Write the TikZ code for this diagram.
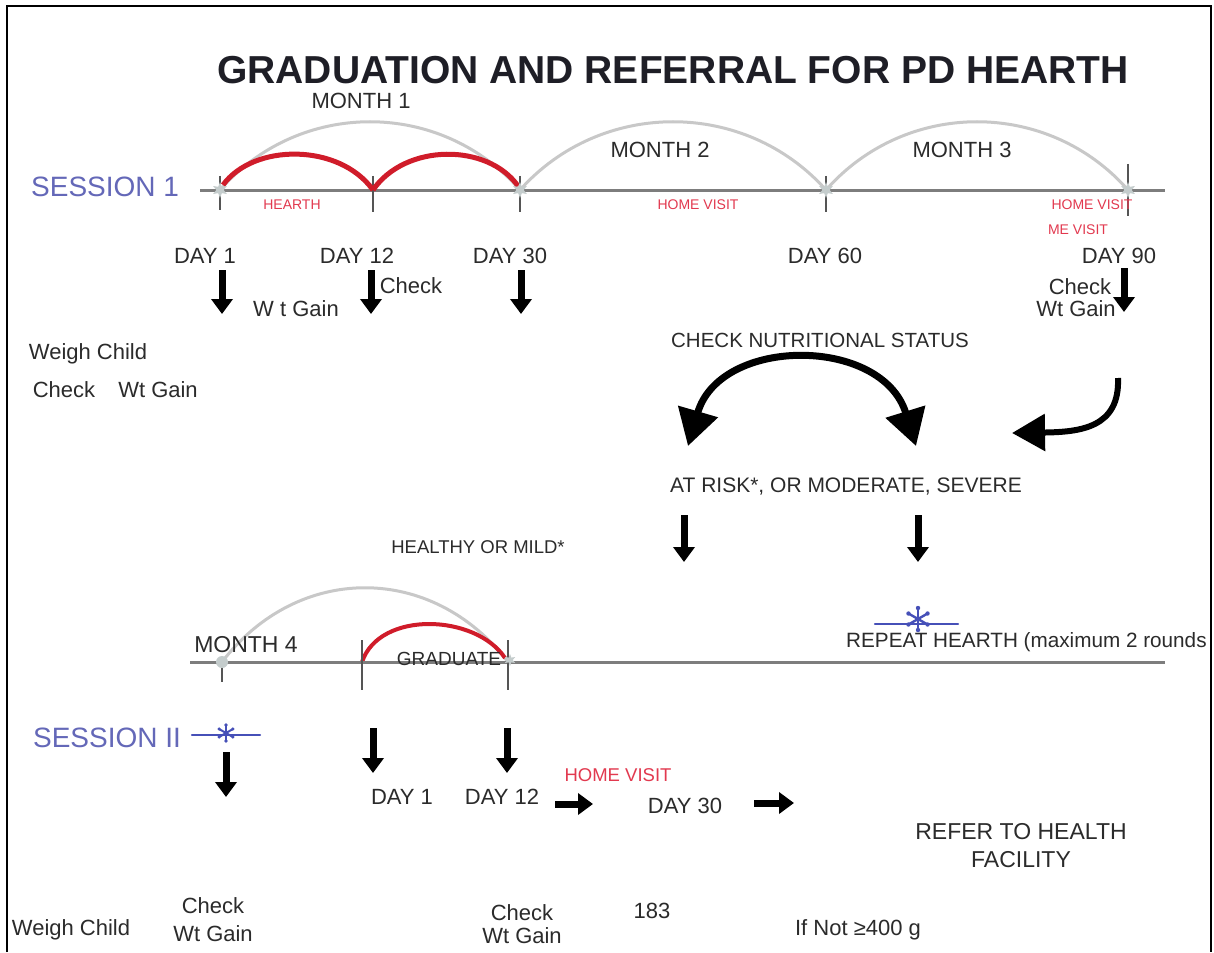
\documentclass[tikz,border=0pt]{standalone}
\usepackage{fontspec}
\setmainfont{Liberation Sans}
\usetikzlibrary{arrows.meta,shapes.geometric,calc}
\definecolor{ink}{HTML}{2B2B2B}
\definecolor{titleink}{HTML}{1E1E26}
\definecolor{axis}{HTML}{7D7D7D}
\definecolor{tickc}{HTML}{555555}
\definecolor{arcgray}{HTML}{C8C8C8}
\definecolor{hearthred}{HTML}{D01C2A}
\definecolor{notered}{HTML}{E2394F}
\definecolor{sessblue}{HTML}{6468B8}
\definecolor{starblue}{HTML}{4650B8}
\definecolor{knotc}{HTML}{C4CCCC}
\newcommand\fs[1]{\fontsize{#1}{#1}\selectfont}

\begin{document}
\begin{tikzpicture}[x=1pt,y=-1pt,
  txt/.style={text=ink, inner sep=0pt, font=\fs{22}},
  small/.style={text=ink, inner sep=0pt, font=\fs{19}},
  redlbl/.style={text=notered, inner sep=0pt, font=\fs{14}},
  session/.style={text=sessblue, inner sep=0pt, font=\fs{28}},
  axisline/.style={draw=axis, line width=3pt},
  tickline/.style={draw=tickc, line width=2pt},
  monthArc/.style={draw=arcgray, line width=3pt},
  hearthArc/.style={draw=hearthred, line width=5pt},
  knot/.style={star, star points=6, star point ratio=2.2, fill=knotc, draw=none, minimum size=16pt, inner sep=0pt},
  dnarrow/.style={draw=black, line width=7pt, -{Triangle[width=21pt,length=15pt]}},
  bigarrow/.style={draw=black, line width=7pt},
  astr/.style={draw=starblue, line width=2.4pt, line cap=round}
]
\useasboundingbox (0,0) rectangle (1214,952);
\fill[white] (0,0) rectangle (1214,952);

% ---------- title ----------
\node[text=titleink, inner sep=0pt, font=\bfseries\fs{39}] (title) at (673,70) {GRADUATION AND REFERRAL FOR PD HEARTH};

% ---------- session 1 time line ----------
\coordinate (s1start) at (200,190);
\coordinate (s1end) at (1165,190);
\coordinate (s1d1) at (220,190);
\coordinate (s1d12) at (373,190);
\coordinate (s1d30) at (520,190);
\coordinate (s1d60) at (826,190);
\coordinate (s1d90) at (1128,190);

\draw[axisline] (s1start) -- (s1end);
\draw[tickline] ($(s1d1)+(0,-14)$) -- ($(s1d1)+(0,20)$);
\draw[tickline] ($(s1d12)+(0,-14)$) -- ($(s1d12)+(0,22)$);
\draw[tickline] ($(s1d30)+(0,-14)$) -- ($(s1d30)+(0,22)$);
\draw[tickline] ($(s1d60)+(0,-14)$) -- ($(s1d60)+(0,22)$);
\draw[tickline] ($(s1d90)+(0,-26)$) -- ($(s1d90)+(0,26)$);

% month arcs
\draw[monthArc] (s1d1) .. controls ($(s1d1)!0.265!(s1d30)+(0,-91)$) and ($(s1d30)!0.265!(s1d1)+(0,-91)$) .. (s1d30);
\draw[monthArc] (s1d30) .. controls ($(s1d30)!0.265!(s1d60)+(0,-91)$) and ($(s1d60)!0.265!(s1d30)+(0,-91)$) .. (s1d60);
\draw[monthArc] (s1d60) .. controls ($(s1d60)!0.265!(s1d90)+(0,-91)$) and ($(s1d90)!0.265!(s1d60)+(0,-91)$) .. (s1d90);
% hearth arcs
\draw[hearthArc] ($(s1d1)+(3,-5)$) .. controls ($(s1d1)!0.22!(s1d12)+(0,-47)$) and ($(s1d12)!0.22!(s1d1)+(0,-47)$) .. (s1d12);
\draw[hearthArc] (s1d12) .. controls ($(s1d12)!0.22!(s1d30)+(0,-47)$) and ($(s1d30)!0.22!(s1d12)+(0,-47)$) .. ($(s1d30)+(-2,-4)$);

\node[knot] (k1) at (s1d1) {};
\node[knot] (k2) at (s1d30) {};
\node[knot] (k3) at (s1d60) {};
\node[knot] (k4) at (s1d90) {};

\node[session, anchor=west] (sess1) at (31,187) {SESSION 1};
\node[txt] (m1) at (361,101) {MONTH 1};
\node[txt] (m2) at (660,150) {MONTH 2};
\node[txt] (m3) at (962,150) {MONTH 3};
\node[redlbl] (hearth) at (292,205) {HEARTH};
\node[redlbl] (hv1) at (698,205) {HOME VISIT};
\node[redlbl] (hv2) at (1092,205) {HOME VISIT};
\node[redlbl] (mev) at (1078,230) {ME VISIT};

\node[txt] (day1) at (205,256) {DAY 1};
\node[txt] (day12) at (357,256) {DAY 12};
\node[txt] (day30) at (510,256) {DAY 30};
\node[txt] (day60) at (825,256) {DAY 60};
\node[txt] (day90) at (1119,256) {DAY 90};

% down arrows under the days
\coordinate (a1s) at (222,270); \coordinate (a1e) at (222,314);
\coordinate (a2s) at (371,270); \coordinate (a2e) at (371,314);
\coordinate (a3s) at (521,270); \coordinate (a3e) at (521,314);
\coordinate (a4s) at (1124,268); \coordinate (a4e) at (1124,312);
\draw[dnarrow] (a1s) -- (a1e);
\draw[dnarrow] (a2s) -- (a2e);
\draw[dnarrow] (a3s) -- (a3e);
\draw[dnarrow] (a4s) -- (a4e);

\node[txt] (wtg1) at (296,309) {W t Gain};
\node[txt] (chk1) at (411,286) {Check};
\node[txt] (chk2) at (1080,287) {Check};
\node[txt] (wtg2) at (1076,309) {Wt Gain};

\node[txt] (weigh1) at (88,354) {Weigh Child};
\node[txt] (chk3) at (64,390) {Check};
\node[txt] (wtg3) at (158,390) {Wt Gain};

% ---------- nutritional status ----------
\node[small, font=\fs{20.5}] (cns) at (820,340) {CHECK NUTRITIONAL STATUS};
\coordinate (cL) at (688,446);
\coordinate (cR) at (916,446);
\draw[bigarrow, {Triangle[width=40pt,length=36pt]}-{Triangle[width=40pt,length=36pt]}]
  (cL) .. controls (720,336) and (882,336) .. (cR);

\coordinate (rs) at (1118,378);
\coordinate (re) at (1012,433);
\draw[bigarrow, line width=6pt, -{Triangle[width=36pt,length=33pt]}]
  (rs) .. controls (1120,428) and (1080,432) .. (re);

\node[small, font=\fs{21}] (risk) at (846,487) {AT RISK*, OR MODERATE, SEVERE};
\coordinate (b1s) at (684,515); \coordinate (b1e) at (684,562);
\coordinate (b2s) at (918,515); \coordinate (b2e) at (918,562);
\draw[dnarrow] (b1s) -- (b1e);
\draw[dnarrow] (b2s) -- (b2e);
\node[small, font=\fs{18.5}] (healthy) at (478,547) {HEALTHY OR MILD*};

% ---------- session 2 time line ----------
\coordinate (s2start) at (190,662);
\coordinate (s2end) at (1165,662);
\coordinate (s2m) at (222,662);
\coordinate (s2a) at (362,662);
\coordinate (s2e) at (508,662);

\draw[monthArc] (s2m) .. controls ($(s2m)!0.265!(s2e)+(0,-99)$) and ($(s2e)!0.265!(s2m)+(0,-99)$) .. (s2e);
\draw[hearthArc, line width=4pt] (s2a) .. controls ($(s2a)!0.12!(s2e)+(0,-52)$) and ($(s2e)!0.22!(s2a)+(0,-48)$) .. ($(s2e)+(-3,-4)$);
\draw[axisline] (s2start) -- (s2end);
\draw[tickline] ($(s2m)+(0,0)$) -- ($(s2m)+(0,20)$);
\draw[tickline] ($(s2a)+(0,-22)$) -- ($(s2a)+(0,28)$);
\draw[tickline] ($(s2e)+(0,-22)$) -- ($(s2e)+(0,28)$);
\node[knot, circle, minimum size=12pt] (k5) at (s2m) {};
\node[knot, minimum size=12pt] (k6) at ($(s2e)+(2,-2)$) {};

\node[txt, font=\fs{23}] (m4) at (246,645) {MONTH 4};
\node[txt, font=\fs{19}] (grad) at (449,659) {GRADUATE};

% repeat hearth with asterisk marker
\node[txt, font=\fs{20.7}, anchor=west] (repeat) at (846,642) {REPEAT HEARTH (maximum 2 rounds};
\coordinate (ast2) at (918,619);
\coordinate (ast2l) at (875,624);
\coordinate (ast2r) at (958,624);
\draw[astr, line width=2.4pt] (ast2l) -- (ast2r);
\foreach \a in {90,30,-30,-90,150,210} {
  \draw[astr] (ast2) -- ++(\a:11);
  \fill[starblue] (ast2) ++(\a:11) circle (2.2);
}

\node[session] (sess2) at (107,738) {SESSION II};
\coordinate (ast1) at (226,733);
\coordinate (ast1l) at (192,735);
\coordinate (ast1r) at (260,735);
\draw[astr, line width=2.2pt] (ast1l) -- (ast1r);
\foreach \a in {90,30,-30,-90,150,210} {
  \draw[astr, line width=2pt] (ast1) -- ++(\a:8);
  \fill[starblue] (ast1) ++(\a:8) circle (1.8);
}

\coordinate (c1s) at (226,752); \coordinate (c1e) at (226,797);
\coordinate (c2s) at (373,728); \coordinate (c2e) at (373,773);
\coordinate (c3s) at (507,728); \coordinate (c3e) at (507,773);
\draw[dnarrow] (c1s) -- (c1e);
\draw[dnarrow] (c2s) -- (c2e);
\draw[dnarrow] (c3s) -- (c3e);

\node[txt] (sday1) at (402,797) {DAY 1};
\node[txt] (sday12) at (502,797) {DAY 12};
\node[redlbl, font=\fs{18.5}] (hv3) at (618,775) {HOME VISIT};
\node[txt] (sday30) at (685,806) {DAY 30};

\coordinate (r1s) at (555,804); \coordinate (r1e) at (593,804);
\coordinate (r2s) at (754,803); \coordinate (r2e) at (794,803);
\draw[dnarrow] (r1s) -- (r1e);
\draw[dnarrow] (r2s) -- (r2e);

\node[txt, align=center, font=\fs{23}] (refer) at (1021,846) {REFER TO HEALTH\\[5pt]FACILITY};

% ---------- bottom notes ----------
\node[txt] (weigh2) at (71,930) {Weigh Child};
\node[txt, align=center] (cw1) at (213,920) {Check\\[6pt]Wt Gain};
\node[txt, align=center] (cw2) at (522,924) {Check\\[1pt]Wt Gain};
\node[txt] (n183) at (652,911) {183};
\node[txt] (ifnot) at (858,930) {If Not ≥400 g};

% ---------- frame ----------
\draw[black, line width=2.5pt] (7,952) -- (7,6) -- (1211,6) -- (1211,952);
\end{tikzpicture}
\end{document}
